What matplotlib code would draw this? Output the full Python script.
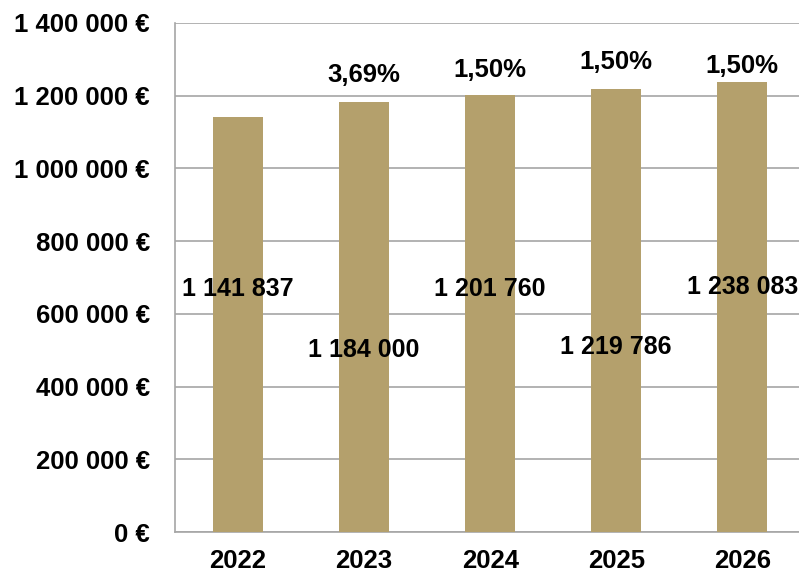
import matplotlib
matplotlib.use("Agg")
import matplotlib.pyplot as plt
from matplotlib.ticker import FuncFormatter

years = ["2022", "2023", "2024", "2025", "2026"]
values = [1141837, 1184000, 1201760, 1219786, 1238083]
value_labels = ["1 141 837", "1 184 000", "1 201 760", "1 219 786", "1 238 083"]
growth_labels = ["", "3,69%", "1,50%", "1,50%", "1,50%"]

# label placement (styling)
value_label_y = [668000, 501000, 668000, 509000, 674000]
growth_label_y = [0, 1257000, 1271000, 1293000, 1282000]

plt.rcParams['font.family'] = ['Liberation Sans', 'DejaVu Sans']
fig = plt.figure(figsize=(7.99, 5.73), dpi=100)
ax = fig.add_axes([175/799, 1-532/573, (799-175)/799, (532-23)/573])

x = list(range(len(years)))
ax.bar(x, values, width=0.4, color="#B4A06C", zorder=3)
ax.set_xlim(-0.5, 4.45)
ax.set_ylim(0, 1400000)
ax.set_yticks(range(0, 1400001, 200000))
ax.yaxis.set_major_formatter(FuncFormatter(lambda v, p: f"{int(v):,}".replace(",", " ") + " €"))
ax.set_xticks(x)
ax.set_xticklabels(years)
ax.grid(axis='y', color="#A6A6A6", linewidth=1.2, zorder=0)
for s in ['top', 'right']:
    ax.spines[s].set_visible(False)
for s in ['left', 'bottom']:
    ax.spines[s].set_color("#A6A6A6")
    ax.spines[s].set_linewidth(1.2)
fs = 18.5
ax.tick_params(axis='both', length=0, labelsize=fs)
ax.tick_params(axis='y', pad=18)
ax.tick_params(axis='x', pad=12)
for lab in ax.get_xticklabels() + ax.get_yticklabels():
    lab.set_fontweight('bold')

for i in x:
    ax.text(i, value_label_y[i], value_labels[i], ha='center', va='center',
            fontsize=18, fontweight='bold', zorder=4)
    if growth_labels[i]:
        ax.text(i, growth_label_y[i], growth_labels[i], ha='center', va='center',
                fontsize=fs, fontweight='bold', zorder=4)

fig.savefig("out.png", dpi=100)
